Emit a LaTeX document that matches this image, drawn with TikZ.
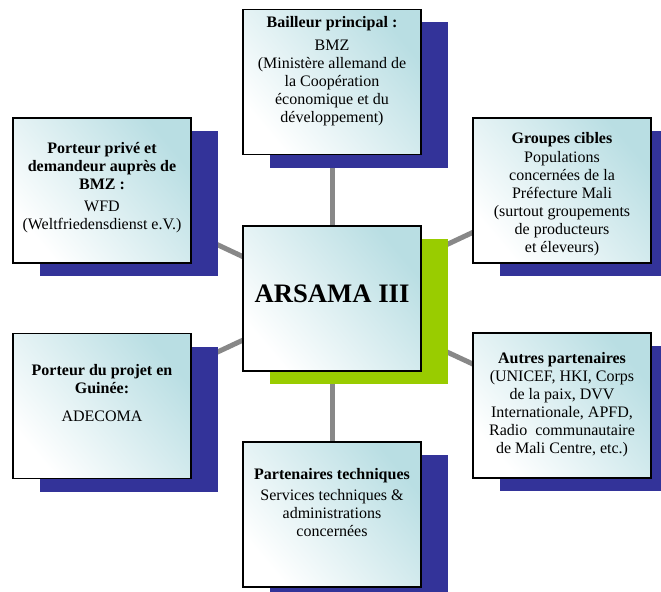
\documentclass[tikz,border=0pt]{standalone}
\usepackage{fontspec}
\setmainfont{Liberation Serif}
\usetikzlibrary{shadows,backgrounds,positioning}
\definecolor{boxteal}{RGB}{185,222,227}
\definecolor{shadowblue}{RGB}{51,51,153}
\definecolor{shadowgreen}{RGB}{153,204,0}
\definecolor{linkgray}{RGB}{136,136,136}
\begin{document}
\begin{tikzpicture}[x=0.75pt, y=-0.75pt,
        box/.style={draw=black, line width=1.2pt, inner sep=0pt,
            minimum width=133.5pt, minimum height=108.75pt,
            top color=boxteal, middle color=boxteal!35, bottom color=white,
            shading angle=-50,
            drop shadow={shadow xshift=20.25pt, shadow yshift=-9.75pt,
                fill=shadowblue, opacity=1}},
        txt/.style={anchor=north, align=center, inner sep=0pt,
            font=\fontsize{12}{13.5}\selectfont},
        link/.style={draw=linkgray, line width=3.75pt}]
    \useasboundingbox (0,0) rectangle (661,592);

    \node[box] (bmz) at (332,82) {};
    \node[box] (wfd) at (102,190.5) {};
    \node[box] (cibles) at (562,190.5) {};
    \node[box, drop shadow={shadow xshift=20.25pt, shadow yshift=-9.75pt,
        fill=shadowgreen, opacity=1}] (arsama) at (332,298.5) {};
    \node[box] (adecoma) at (102,406) {};
    \node[box] (autres) at (562,405.5) {};
    \node[box] (techn) at (332,514.5) {};

    \begin{scope}[on background layer]
        \draw[link] (arsama.center) -- (bmz.center);
        \draw[link] (arsama.center) -- (wfd.center);
        \draw[link] (arsama.center) -- (cibles.center);
        \draw[link] (arsama.center) -- (adecoma.center);
        \draw[link] (arsama.center) -- (autres.center);
        \draw[link] (arsama.center) -- (techn.center);
    \end{scope}

    \node[txt] (bmztext) at ([shift={(0,7)}]bmz.north)
        {\textbf{Bailleur principal :}\\[4pt] BMZ\\ (Ministère allemand de\\
         la Coopération\\ économique et du\\ développement)};
    \node[txt] (wfdtext) at ([shift={(0,25)}]wfd.north)
        {\textbf{Porteur privé et}\\ \textbf{demandeur auprès de}\\ \textbf{BMZ :}\\[3pt]
         WFD\\ (Weltfriedensdienst e.V.)};
    \node[txt] (ciblestext) at ([shift={(0,15)}]cibles.north)
        {\textbf{Groupes cibles}\\[1pt] Populations\\ concernées de la\\
         Préfecture Mali\\ (surtout groupements\\ de producteurs\\ et éleveurs)};
    \node[txt, anchor=base, font=\fontsize{20}{24}\bfseries] (arsamatext)
        at ([shift={(0,77)}]arsama.north) {ARSAMA III};
    \node[txt] (adecomatext) at ([shift={(0,31)}]adecoma.north)
        {\textbf{Porteur du projet en}\\ \textbf{Guinée:}\\[8pt] ADECOMA};
    \node[txt] (autrestext) at ([shift={(0,20)}]autres.north)
        {\textbf{Autres partenaires}\\ (UNICEF, HKI, Corps\\ de la paix, DVV\\
         Internationale, APFD,\\ Radio~ communautaire\\ de Mali Centre, etc.)};
    \node[txt] (techntext) at ([shift={(0,27)}]techn.north)
        {\textbf{Partenaires techniques}\\[2pt] Services techniques \&\\
         administrations\\ concernées};
\end{tikzpicture}
\end{document}
